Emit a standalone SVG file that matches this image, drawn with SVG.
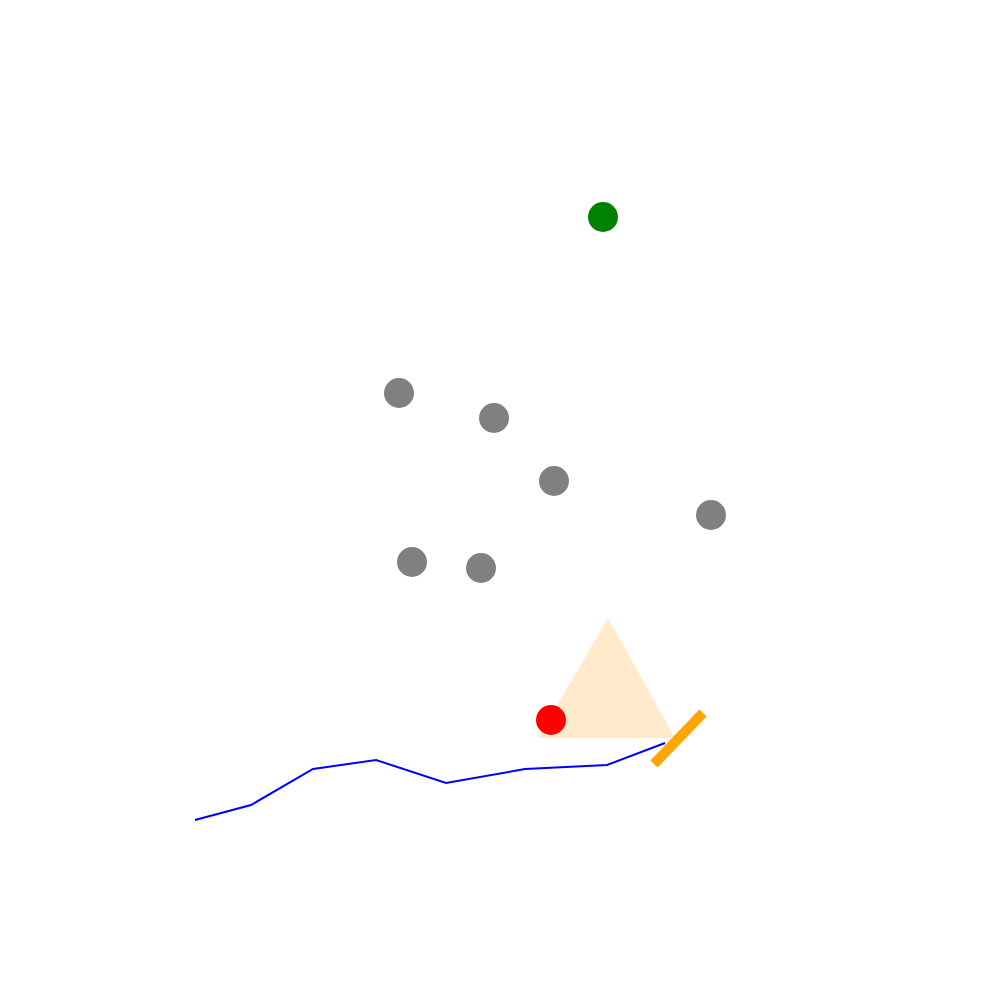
<svg xmlns="http://www.w3.org/2000/svg" width="1000" height="1000" viewBox="0 0 1000 1000">
<style>
.dot{fill:#808080}
</style>
<rect width="1000" height="1000" fill="#ffffff"/>
<polygon id="triangle" points="608,618 538,738 675,738" fill="#ffebcc"/>
<circle id="green" cx="603" cy="217" r="15" fill="#008000"/>
<g id="dots">
<circle class="dot" cx="399" cy="393" r="15"/>
<circle class="dot" cx="494" cy="418" r="15"/>
<circle class="dot" cx="554" cy="481" r="15"/>
<circle class="dot" cx="711" cy="515" r="15"/>
<circle class="dot" cx="412" cy="562" r="15"/>
<circle class="dot" cx="481" cy="568" r="15"/>
</g>
<circle id="red" cx="551" cy="720" r="15" fill="#ff0000"/>
<polyline id="path" points="195,820 251,805 313,769 376,760 446,783 525,769 607,765 665,743" fill="none" stroke="#0000ff" stroke-width="2"/>
<line id="bar" x1="654" y1="764" x2="703" y2="713" stroke="#ffa500" stroke-width="10"/>
</svg>
